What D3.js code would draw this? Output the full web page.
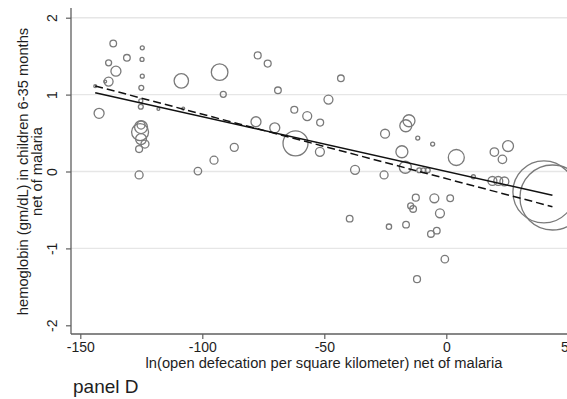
<!DOCTYPE html>
<html>
<head>
<meta charset="utf-8">
<script src="https://cdn.jsdelivr.net/npm/d3@7"></script>
<style>
  html, body { margin: 0; padding: 0; background: #fff; }
  svg { display: block; font-family: "Liberation Sans", Arial, sans-serif; }
</style>
</head>
<body>
<svg id="chart" width="567" height="399"></svg>
<script>
// Residual open defecation (x) vs residual hemoglobin (y), marker area ~ weight
const defecationResid = [
  -136.5, -130.9, -124.6, -138.4, -135.4, -124.7, -138.4, -139.8, -124.6, -125.0,
  -143.9, -125.2, -125.2, -118.0, -142.3, -125.5, -125.1, -125.1, -125.1, -123.5,
  -125.9, -125.9, -108.6, -92.9, -107.8, -91.4, -77.3, -73.2, -69.0, -78.0,
  -70.3, -86.9, -95.2, -101.8, -43.2, -48.3, -62.3, -57.0, -51.7, -61.8,
  -51.8, -37.4, -25.5, -25.1, -15.3, -16.6, -11.7, -5.6, -18.2, 4.1,
  -16.8, -11.1, -9.4, -7.6, 19.7, 25.3, 23.0, 11.1, 18.9, 21.3,
  23.8, 40.0, 43.5, -39.6, -12.5, -4.9, 1.6, -14.6, -13.6, -2.6,
  -23.5, -16.5, -6.3, -3.9, -0.6, -12.0
];
const hemoglobinResid = [
  1.665, 1.478, 1.608, 1.413, 1.305, 1.457, 1.169, 1.169, 1.240, 1.088,
  1.110, 0.919, 0.842, 0.812, 0.756, 0.513, 0.578, 0.604, 0.422, 0.357,
  0.292, -0.045, 1.179, 1.292, 0.818, 1.004, 1.510, 1.403, 1.056, 0.647,
  0.568, 0.314, 0.147, 0.006, 1.212, 0.935, 0.803, 0.721, 0.636, 0.366,
  0.256, 0.022, -0.045, 0.491, 0.660, 0.595, 0.435, 0.357, 0.257, 0.182,
  0.055, 0.016, 0.016, 0.016, 0.253, 0.331, 0.158, -0.068, -0.123, -0.123,
  -0.130, -0.266, -0.338, -0.613, -0.340, -0.348, -0.348, -0.448, -0.487, -0.543,
  -0.717, -0.691, -0.812, -0.769, -1.140, -1.400
];
const weights = [
  11, 11, 4, 9, 25, 4, 20, 2, 4, 6,
  2, 4, 6, 2, 25, 72, 42, 16, 30, 16,
  12, 16, 52, 69, 2, 9, 12, 12, 11, 25,
  25, 16, 16, 14, 11, 20, 12, 20, 12, 156,
  20, 20, 16, 20, 36, 36, 4, 4, 36, 64,
  36, 6, 6, 6, 18, 30, 18, 4, 20, 20,
  20, 961, 1056, 11, 12, 20, 11, 9, 11, 20,
  7, 11, 11, 11, 14, 12
];

// Fitted lines: unweighted (solid) and weighted (dashed)
const fitNames = ["unweighted", "weighted"];
const fitIntercepts = [0.000, -0.093];
const fitSlopes = [-0.00712, -0.00838];

const xTickValues = [-150, -100, -50, 0, 50];
const yTickValues = [-2, -1, 0, 1, 2];
const yGridValues = [-1, 0, 1, 2];

const xTitle = "ln(open defecation per square kilometer) net of malaria";
const yTitleLines = ["hemoglobin (gm/dL) in children 6-35 months", "net of malaria"];
const panelLabel = "panel D";

const W = 567, H = 399;
const plot = { left: 71, right: 567, top: 8, bottom: 334 };
const fontFamily = "Liberation Sans, Arial, sans-serif";
const textColor = "#1e1e1e";
const axisColor = "#5f5f5f";
const fmt = d => String(d); // plain hyphen-minus for negatives

const svg = d3.select("#chart");
svg.append("rect").attr("width", W).attr("height", H).attr("fill", "#fff");

const x = d3.scaleLinear().domain([-150, 50]).range([80.3, 568.3]);
const y = d3.scaleLinear().domain([-2, 2]).range([325.3, 17.7]);
const r = d3.scaleSqrt().domain([0, d3.max(weights)]).range([0, 32.5]);

// horizontal grid
svg.append("g")
  .selectAll("line")
  .data(yGridValues)
  .join("line")
  .attr("x1", plot.left).attr("x2", plot.right)
  .attr("y1", d => y(d)).attr("y2", d => y(d))
  .attr("stroke", "#e6e6e6")
  .attr("stroke-width", 1.4);

// markers
const pts = defecationResid.map((d, i) => ({ x: d, y: hemoglobinResid[i], w: weights[i] }));
svg.append("clipPath").attr("id", "plotclip")
  .append("rect")
  .attr("x", plot.left).attr("y", plot.top)
  .attr("width", plot.right - plot.left).attr("height", plot.bottom - plot.top);

const body = svg.append("g").attr("clip-path", "url(#plotclip)");
body.append("g")
  .selectAll("circle")
  .data(pts)
  .join("circle")
  .attr("cx", d => x(d.x))
  .attr("cy", d => y(d.y))
  .attr("r", d => r(d.w))
  .attr("fill", "none")
  .attr("stroke", "#7a7a7a")
  .attr("stroke-width", 1.3);

// fitted lines over the range of the data
const xExt = d3.extent(defecationResid);
const line = d3.line().x(d => x(d[0])).y(d => y(d[1]));
fitNames.forEach((name, i) => {
  const seg = xExt.map(v => [v, fitIntercepts[i] + fitSlopes[i] * v]);
  body.append("path")
    .attr("class", "fit-" + name)
    .attr("d", line(seg))
    .attr("fill", "none")
    .attr("stroke", "#111")
    .attr("stroke-width", 1.5)
    .attr("stroke-dasharray", i === 1 ? "8,4" : null);
});

// axes
const xAxis = svg.append("g")
  .attr("transform", `translate(0,${plot.bottom})`)
  .call(d3.axisBottom(x).tickValues(xTickValues).tickSize(5).tickPadding(3).tickFormat(fmt));
xAxis.select(".domain").remove();
xAxis.selectAll(".tick line").attr("stroke", axisColor).attr("stroke-width", 1.2);
xAxis.selectAll(".tick text")
  .attr("font-size", 14).attr("fill", textColor)
  .attr("font-family", fontFamily);

const yAxis = svg.append("g")
  .attr("transform", `translate(${plot.left},0)`)
  .call(d3.axisLeft(y).tickValues(yTickValues).tickSize(5).tickFormat(fmt));
yAxis.select(".domain").remove();
yAxis.selectAll(".tick line").attr("stroke", axisColor).attr("stroke-width", 1.2);
yAxis.selectAll(".tick text")
  .attr("font-size", 14).attr("fill", textColor)
  .attr("font-family", fontFamily)
  .attr("text-anchor", "middle")
  .attr("dy", null)
  .attr("x", null)
  .attr("transform", "translate(-14,0) rotate(-90)");

svg.append("line")
  .attr("x1", plot.left).attr("x2", plot.right)
  .attr("y1", plot.bottom).attr("y2", plot.bottom)
  .attr("stroke", axisColor).attr("stroke-width", 1.3);
svg.append("line")
  .attr("x1", plot.left).attr("x2", plot.left)
  .attr("y1", plot.top).attr("y2", plot.bottom)
  .attr("stroke", axisColor).attr("stroke-width", 1.3);

// titles
svg.append("text")
  .attr("x", 324).attr("y", 368)
  .attr("text-anchor", "middle")
  .attr("font-size", 14.7).attr("fill", textColor)
  .text(xTitle);

yTitleLines.forEach((t, i) => {
  svg.append("text")
    .attr("transform", `translate(${28 + i * 14},171.5) rotate(-90)`)
    .attr("text-anchor", "middle")
    .attr("font-size", 14.7).attr("fill", textColor)
    .text(t);
});

svg.append("text")
  .attr("x", 73).attr("y", 393)
  .attr("font-size", 19).attr("fill", textColor)
  .text(panelLabel);
</script>
</body>
</html>
